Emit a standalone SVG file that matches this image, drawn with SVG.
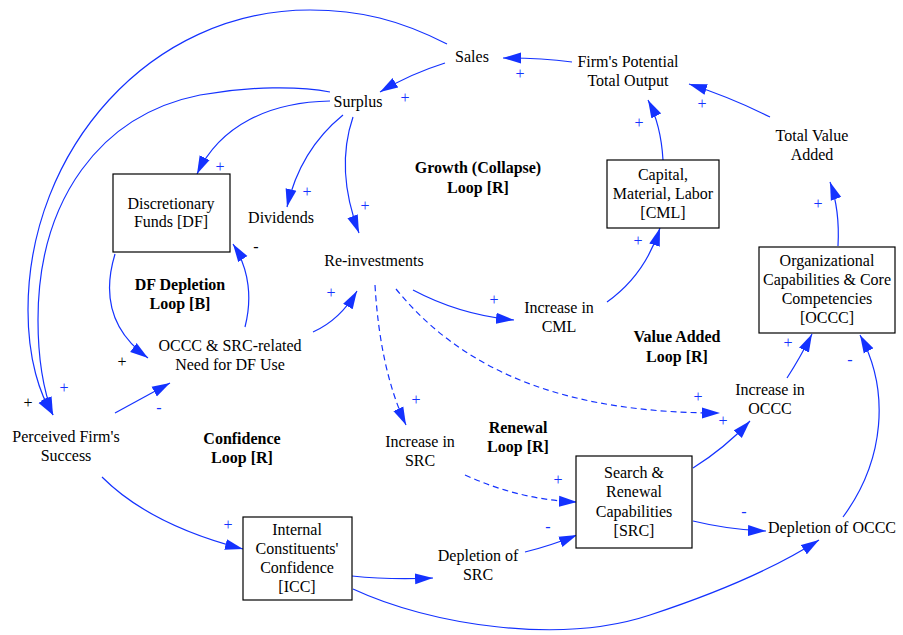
<svg xmlns="http://www.w3.org/2000/svg" width="903" height="635" viewBox="0 0 903 635" font-family="'Liberation Serif', 'Times New Roman', serif">
<defs>
<marker id="ah" markerUnits="userSpaceOnUse" markerWidth="19" markerHeight="12" refX="18" refY="6" orient="auto">
<path d="M0,0.5 L18,6 L0,11.5 Z" fill="#1432ff"/>
</marker>
<style>
text{font-family:'Liberation Serif','Times New Roman',serif;font-size:16px;fill:#000;text-anchor:middle}
.b{font-weight:bold}
.p{fill:#1432ff}
.k{fill:#000}
.box{fill:#fff;stroke:#000;stroke-width:1.2}
#connectors path{fill:none;stroke:#1432ff;stroke-width:1.2;marker-end:url(#ah)}
#connectors path.d{stroke-dasharray:6 4}
</style>
</defs>
<rect width="903" height="635" fill="#fff"/>

<g id="connectors">
<path d="M572,62 Q540,58 503,58"/>
<path d="M770,117 Q730,97 689,84"/>
<path d="M663,160 Q661,125 648,100"/>
<path d="M838,246 Q840,210 830,182"/>
<path d="M607,302 Q645,275 660,228"/>
<path d="M413,290 Q460,315 514,320"/>
<path d="M445,63 Q410,74 380,92"/>
<path d="M447,44 C400,20 360,10 310,10 C150,10 28,150 28,310 C28,360 40,395 53,415"/>
<path d="M330,92 C300,86 250,86 200,95 C100,115 38,200 38,320 C38,360 44,392 53,415"/>
<path d="M343,115 Q300,150 287,207"/>
<path d="M353,117 Q335,170 359,233"/>
<path d="M330,101 C270,102 220,125 197,174"/>
<path d="M115,254 Q95,320 148,358"/>
<path d="M245,327 C252,300 250,270 233,244"/>
<path d="M313,332 Q340,320 357,291"/>
<path d="M115,413 L170,383"/>
<path d="M102,477 Q150,525 243,549"/>
<path d="M352,576 Q390,580 433,578"/>
<path d="M353,589 C430,625 560,645 650,615 C720,592 780,565 819,540"/>
<path d="M525,552 Q550,546 577,535"/>
<path class="d" d="M465,475 Q520,500 577,502"/>
<path d="M693,468 Q725,448 750,421"/>
<path d="M787,378 Q800,358 812,334"/>
<path d="M693,521 Q730,530 766,531"/>
<path d="M843,517 C885,460 890,390 860,335"/>
<path class="d" d="M375,285 Q380,370 406,425"/>
<path class="d" d="M396,289 C470,380 580,413 720,413"/>
</g>

<g id="sales"><text x="472" y="62">Sales</text></g>
<g id="firm-potential"><text x="628" y="67">Firm's Potential</text><text x="628" y="86">Total Output</text></g>
<g id="surplus"><text x="358" y="107">Surplus</text></g>
<g id="df"><rect class="box" x="113" y="174" width="117" height="78"/><text x="171" y="209">Discretionary</text><text x="171" y="227">Funds [DF]</text></g>
<g id="dividends"><text x="281" y="223">Dividends</text></g>
<g id="reinvestments"><text x="374" y="266">Re-investments</text></g>
<g id="growth-loop"><text class="b" x="478" y="173">Growth (Collapse)</text><text class="b" x="478" y="193">Loop [R]</text></g>
<g id="cml"><rect class="box" x="607" y="160" width="112" height="68"/><text x="663" y="180">Capital,</text><text x="663" y="199">Material, Labor</text><text x="663" y="218">[CML]</text></g>
<g id="tva"><text x="812" y="141">Total Value</text><text x="812" y="160">Added</text></g>
<g id="occc"><rect class="box" x="759" y="247" width="136" height="86"/><text x="827" y="266">Organizational</text><text x="827" y="285">Capabilities &amp; Core</text><text x="827" y="304">Competencies</text><text x="827" y="323">[OCCC]</text></g>
<g id="inc-cml"><text x="559" y="313">Increase in</text><text x="559" y="332">CML</text></g>
<g id="value-loop"><text class="b" x="677" y="342">Value Added</text><text class="b" x="677" y="362">Loop [R]</text></g>
<g id="inc-occc"><text x="770" y="395">Increase in</text><text x="770" y="414">OCCC</text></g>
<g id="renewal-loop"><text class="b" x="518" y="433">Renewal</text><text class="b" x="518" y="452">Loop [R]</text></g>
<g id="src"><rect class="box" x="576" y="456" width="116" height="92"/><text x="634" y="478">Search &amp;</text><text x="634" y="497">Renewal</text><text x="634" y="517">Capabilities</text><text x="634" y="536">[SRC]</text></g>
<g id="dep-occc"><text x="832" y="533">Depletion of OCCC</text></g>
<g id="dep-src"><text x="478" y="561">Depletion of</text><text x="478" y="580">SRC</text></g>
<g id="inc-src"><text x="420" y="447">Increase in</text><text x="420" y="466">SRC</text></g>
<g id="icc"><rect class="box" x="243" y="517" width="109" height="83"/><text x="297" y="535">Internal</text><text x="297" y="554">Constituents'</text><text x="297" y="573">Confidence</text><text x="297" y="592">[ICC]</text></g>
<g id="perceived"><text x="66" y="442">Perceived Firm's</text><text x="66" y="461">Success</text></g>
<g id="confidence-loop"><text class="b" x="242" y="444">Confidence</text><text class="b" x="242" y="463">Loop [R]</text></g>
<g id="need"><text x="230" y="351">OCCC &amp; SRC-related</text><text x="230" y="370">Need for DF Use</text></g>
<g id="df-loop"><text class="b" x="180" y="290">DF Depletion</text><text class="b" x="180" y="309">Loop [B]</text></g>

<g id="polarities">
<text class="p" x="520" y="79">+</text>
<text class="p" x="702" y="109">+</text>
<text class="p" x="639" y="128">+</text>
<text class="p" x="818" y="209">+</text>
<text class="p" x="638" y="246">+</text>
<text class="p" x="494" y="305">+</text>
<text class="p" x="405" y="103">+</text>
<text class="p" x="220" y="172">+</text>
<text class="p" x="307" y="197">+</text>
<text class="p" x="365" y="211">+</text>
<text class="k" x="256" y="252">-</text>
<text class="p" x="331" y="298">+</text>
<text class="k" x="122" y="367">+</text>
<text class="p" x="64" y="393">+</text>
<text class="k" x="28" y="408">+</text>
<text class="p" x="159" y="413">-</text>
<text class="p" x="228" y="530">+</text>
<text class="p" x="416" y="405">+</text>
<text class="p" x="698" y="402">+</text>
<text class="p" x="723" y="426">+</text>
<text class="p" x="788" y="348">+</text>
<text class="p" x="850" y="365">-</text>
<text class="p" x="558" y="485">+</text>
<text class="p" x="548" y="532">-</text>
<text class="p" x="744" y="517">-</text>
</g>
</svg>
